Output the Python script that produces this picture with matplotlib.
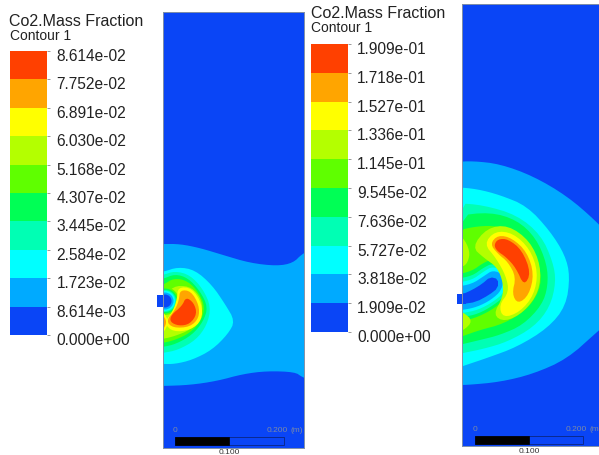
import numpy as np
import matplotlib
matplotlib.use("Agg")
import matplotlib.pyplot as plt
from matplotlib.patches import Rectangle, Ellipse
from matplotlib.transforms import ScaledTranslation

plt.rcParams['font.family'] = ['Liberation Sans', 'DejaVu Sans']

BAND_COLORS = ['#0A45F6', '#00AAFF', '#00FFFF', '#00FFB4', '#00FF55',
               '#5FFF00', '#B4FF00', '#FFFF00', '#FFA500', '#FF4000']

levels_a = [0.0, 8.614e-03, 1.723e-02, 2.584e-02, 3.445e-02, 4.307e-02,
            5.168e-02, 6.030e-02, 6.891e-02, 7.752e-02, 8.614e-02]
labels_a = ['0.000e+00', '8.614e-03', '1.723e-02', '2.584e-02', '3.445e-02', '4.307e-02',
            '5.168e-02', '6.030e-02', '6.891e-02', '7.752e-02', '8.614e-02']
levels_b = [0.0, 1.909e-02, 3.818e-02, 5.727e-02, 7.636e-02, 9.545e-02,
            1.145e-01, 1.336e-01, 1.527e-01, 1.718e-01, 1.909e-01]
labels_b = ['0.000e+00', '1.909e-02', '3.818e-02', '5.727e-02', '7.636e-02', '9.545e-02',
            '1.145e-01', '1.336e-01', '1.527e-01', '1.718e-01', '1.909e-01']

# Contour outlines: (band index, outline)
contours_a_outer = [
    (1, [(150, 245), (163, 245), (180, 245), (200, 249), (223, 256), (250, 264), (277, 267), (293, 264), (302, 255), (312, 250),
         (312, 382), (302, 378), (295, 373), (267, 372), (243, 375), (217, 382), (190, 386), (163, 387), (150, 387)]),
    (2, [(150, 274), (163, 273), (178, 268), (195, 271), (212, 286), (225, 305), (235, 322), (228, 335), (212, 351), (192, 361), (175, 365), (163, 365), (150, 364)]),
    (3, [(150, 278), (163, 276), (175, 272), (190, 276), (203, 290), (211, 308), (207, 326), (196, 341), (178, 351), (163, 354), (150, 355)]),
    (4, [(150, 282), (163, 280), (175, 275), (188, 279), (200, 292), (208, 308), (203, 323), (192, 336), (176, 345), (163, 348), (150, 349)]),
    (5, [(150, 290), (163, 286), (174, 279), (188, 282), (199, 294), (205, 308), (201, 322), (190, 334), (175, 341), (163, 344), (150, 345)]),
    (6, [(150, 305), (163, 300), (173, 287), (189, 287), (199, 296), (203, 308), (200, 321), (190, 331), (175, 337), (163, 340), (150, 341)]),
]
pocket_a = [(5, 14.0), (4, 12.5), (3, 11.0), (2, 10.0), (1, 8.5), (0, 6.5)]
pocket_a_centre = (165, 302)
contours_a_inner = [
    (7, [(178, 288), (192, 289), (202, 305), (202, 321), (191, 331), (173, 333), (164, 324), (173, 312), (177, 300)]),
    (8, [(180, 291), (191, 292), (199, 306), (199, 319), (190, 328), (173, 329), (166, 322), (175, 311), (179, 301)]),
    (9, [(170, 323), (171, 316), (182, 307), (186, 298), (194, 304), (197, 315), (190, 325), (179, 327)]),
    (7, [(155, 311), (163, 312), (169, 323), (163, 335), (155, 336)]),
    (8, [(155, 316), (163, 316), (167, 323), (163, 331), (155, 332)]),
]
inlet_a = [(157, 296), (165, 296), (165, 308), (157, 308)]

contours_b = [
    (1, [(455, 163), (473, 162), (500, 165), (533, 177), (567, 197), (596, 222), (612, 240),
         (612, 320), (597, 333), (567, 360), (533, 375), (500, 383), (467, 386), (455, 386)]),
    (2, [(455, 188), (477, 190), (500, 196), (527, 207), (550, 232), (565, 256), (570, 277), (566, 307), (548, 329), (517, 348), (487, 359), (463, 367), (455, 370)]),
    (3, [(455, 204), (483, 206), (517, 216), (541, 236), (553, 263), (556, 283), (550, 308), (534, 328), (507, 343), (483, 350), (463, 354), (455, 356)]),
    (4, [(455, 217), (490, 213), (517, 221), (536, 239), (547, 265), (548, 287), (542, 306), (523, 326), (500, 336), (480, 341), (463, 345), (455, 347)]),
    (5, [(455, 232), (478, 227), (498, 227), (519, 235), (534, 254), (541, 272), (540, 291), (527, 311), (503, 325), (480, 331), (463, 337), (455, 340)]),
    (4, [(455, 276), (472, 272), (483, 264), (493, 260), (511, 270), (509, 296), (495, 309), (478, 318), (463, 322), (455, 322)]),
    (3, [(455, 280), (472, 277), (483, 269), (493, 264), (509, 272), (507, 295), (494, 306), (478, 315), (463, 318), (455, 318)]),
    (2, [(455, 284), (472, 281), (483, 273), (493, 267), (507, 274), (505, 293), (493, 303), (478, 311), (463, 314), (455, 314)]),
    (1, [(455, 288), (472, 285), (484, 277), (493, 271), (504, 276), (502, 291), (491, 301), (477, 308), (463, 311), (455, 311)]),
    (6, [(472, 248), (487, 229), (508, 226), (530, 242), (541, 267), (539, 293), (524, 313), (505, 323), (493, 316), (503, 298), (503, 283), (497, 268), (484, 259)]),
    (7, [(484, 245), (495, 232), (513, 234), (530, 250), (538, 273), (534, 296), (520, 313), (503, 319), (499, 306), (509, 293), (506, 277), (496, 259)]),
    (8, [(490, 245), (498, 236), (512, 239), (527, 253), (534, 275), (529, 296), (518, 305), (512, 295), (516, 278), (508, 263), (498, 255)]),
    (9, [(494, 246), (498, 240), (508, 240), (522, 251), (531, 274), (524, 287), (516, 269), (506, 258), (497, 252)]),
    (6, [(455, 236), (463, 238), (470, 252), (468, 263), (463, 268), (455, 268)]),
    (6, [(455, 312), (463, 313), (473, 322), (463, 332), (455, 332)]),
]
jet_b = [(450, 295), (463, 295), (472, 291), (482, 285), (490, 278), (498, 280), (498, 289), (489, 296), (476, 303), (463, 305), (450, 305)]
inlet_b = [(457, 295), (466, 295), (466, 304.5), (457, 304.5)]

bar_positions = {'a': (9.5, 47.5, 52, 336), 'b': (310.5, 348, 45, 333)}
W, H = 599, 456


def smooth(points, n=2):
    p = np.asarray(points, float)
    for _ in range(n):
        q = np.roll(p, -1, axis=0)
        p = np.column_stack([0.75 * p + 0.25 * q, 0.25 * p + 0.75 * q]).reshape(-1, 2)
    return p


def px_axes(fig, x0, x1, y0, y1):
    return fig.add_axes([x0 / W, 1 - y1 / H, (x1 - x0) / W, (y1 - y0) / H])


fig = plt.figure(figsize=(W / 100, H / 100), dpi=100, facecolor='white')


def colorbar(key, levels, labels):
    x0, x1, y0, y1 = bar_positions[key]
    ax = px_axes(fig, x0, x1, y0, y1)
    for i in range(len(levels) - 1):
        ax.bar(0, levels[i + 1] - levels[i], bottom=levels[i], width=1, color=BAND_COLORS[i], linewidth=0)
    ax.set_xlim(-0.5, 0.5)
    ax.set_ylim(levels[0], levels[-1])
    ax.set_xticks([])
    ax.yaxis.tick_right()
    ax.set_yticks(levels)
    ax.set_yticklabels(labels, fontsize=11.2, color='#222222')
    ax.tick_params(axis='y', length=2.5, width=0.7, color='#999999', pad=4)
    off = ScaledTranslation(0, -3 / 100, fig.dpi_scale_trans)
    for lab in ax.get_yticklabels():
        lab.set_transform(lab.get_transform() + off)
    for s in ax.spines.values():
        s.set_visible(False)


def panel(x0, x1, y0, y1):
    ax = px_axes(fig, x0, x1, y0, y1)
    ax.set_xlim(x0, x1)
    ax.set_ylim(y1, y0)
    ax.set_xticks([])
    ax.set_yticks([])
    ax.set_facecolor(BAND_COLORS[0])
    for s in ax.spines.values():
        s.set_color('#8090A8')
        s.set_linewidth(0.7)
    return ax


def draw(ax, items):
    for band, pts in items:
        xy = smooth(pts)
        ax.fill(xy[:, 0], xy[:, 1], color=BAND_COLORS[band], linewidth=0)


def scale_bar(ax, x0, x_mid, x_end, y0, y1):
    grey = '#7C8AA6'
    ax.add_patch(Rectangle((x0, y0), x_end - x0, y1 - y0, fill=False, ec='#0A2A90', lw=0.7))
    ax.add_patch(Rectangle((x0, y0), x_mid - x0, y1 - y0, fc='black', ec='black', lw=0.5))
    ax.text(x0, y0 - 7, '0', fontsize=6, color=grey, ha='center', va='center')
    ax.text(x_end - 7, y0 - 7, '0.200', fontsize=6, color=grey, ha='center', va='center')
    ax.text(x_end + 13, y0 - 7, '(m)', fontsize=6, color=grey, ha='center', va='center', clip_on=False)
    ax.text(x_mid, y1 + 7, '0.100', fontsize=6, color='#333333', ha='center', va='center', clip_on=False)


colorbar('a', levels_a, labels_a)
colorbar('b', levels_b, labels_b)

fig.text(9 / W, 1 - 21 / H, 'Co2.Mass Fraction', fontsize=11.5, color='#222222', va='center')
fig.text(10 / W, 1 - 35.5 / H, 'Contour 1', fontsize=10, color='#222222', va='center')
fig.text(311 / W, 1 - 13 / H, 'Co2.Mass Fraction', fontsize=11.5, color='#222222', va='center')
fig.text(311 / W, 1 - 28 / H, 'Contour 1', fontsize=10, color='#222222', va='center')

ax_a = panel(163, 303.5, 13, 449)
draw(ax_a, contours_a_outer)
for band, r in pocket_a:
    ax_a.add_patch(Ellipse(pocket_a_centre, 2 * r, 2 * r, fc=BAND_COLORS[band], lw=0))
draw(ax_a, contours_a_inner)
ia = np.array(inlet_a)
ax_a.fill(ia[:, 0], ia[:, 1], color=BAND_COLORS[0], lw=0, clip_on=False)
scale_bar(ax_a, 175, 229, 284, 438, 445.5)

ax_b = panel(462, 603, 5, 447)
draw(ax_b, contours_b)
jb = smooth(jet_b, 1)
ax_b.fill(jb[:, 0], jb[:, 1], color=BAND_COLORS[0], lw=0)
ib = np.array(inlet_b)
ax_b.fill(ib[:, 0], ib[:, 1], color=BAND_COLORS[0], lw=0, clip_on=False)
scale_bar(ax_b, 475, 529, 583, 437, 444.5)

fig.savefig('out.png', dpi=100)
